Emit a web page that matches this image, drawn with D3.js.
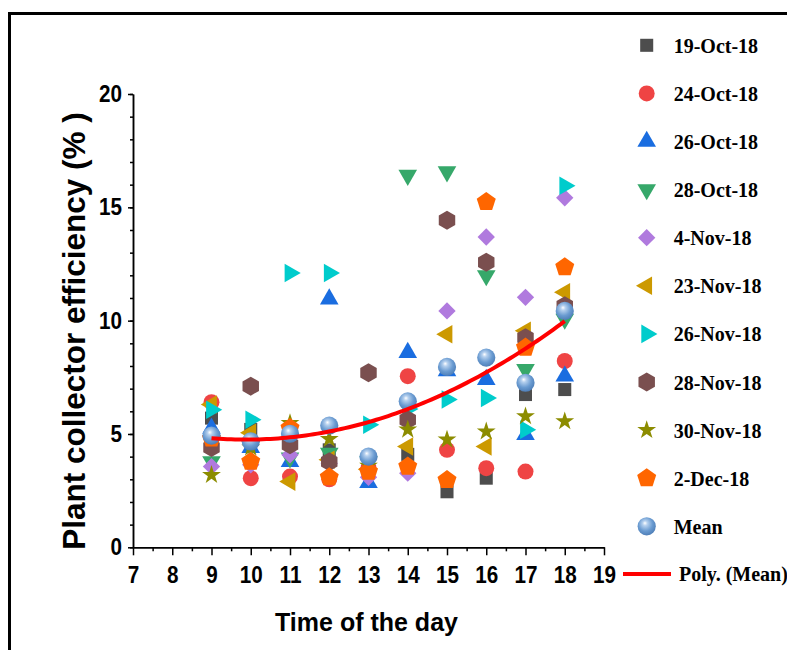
<!DOCTYPE html>
<html>
<head>
<meta charset="utf-8">
<script src="https://cdn.jsdelivr.net/npm/d3@7"></script>
<style>
  body { margin: 0; background: #fff; }
  svg { display: block; }
  .tick text { font-family: "Liberation Sans", Arial, sans-serif; font-weight: bold; font-size: 23.5px; fill: #000; }
  .axis path, .axis line { stroke: #000; stroke-width: 1.5px; }
</style>
</head>
<body>
<svg width="787" height="650"></svg>
<script>
// hours of the day
const hours = [9, 10, 11, 12, 13, 14, 15, 16, 17, 18];

// plant collector efficiency (%) per day
const oct19 = [5.7, 5.2, 4.9, 4.3, 3.4, 4.1, 2.45, 3.05, 6.74, 6.96];
const oct24 = [6.4, 3.05, 3.12, 3.0, 3.5, 7.55, 4.3, 3.49, 3.34, 8.22];
const oct26 = [5.25, 4.4, 3.78, 10.95, 2.85, 8.59, 7.78, 7.4, 4.97, 7.55];
const oct28 = [3.78, 4.45, 3.95, 4.15, 3.78, 16.42, 16.57, 11.99, 7.85, 10.07];
const nov4 = [3.56, 3.64, 4.08, 3.7, 3.09, 3.27, 10.43, 13.69, 11.03, 15.42];
const nov23 = [6.3, 5.05, 2.9, 3.86, 3.44, 4.45, 9.4, 4.45, 9.55, 11.25];
const nov26 = [6.07, 5.63, 12.1, 12.1, 5.41, 6.1, 6.52, 6.59, 5.19, 15.95];
const nov28 = [4.4, 7.11, 4.52, 3.78, 7.7, 5.63, 14.43, 12.58, 9.25, 10.66];
const nov30 = [3.19, 4.4, 5.48, 4.78, 3.6, 5.19, 4.75, 5.11, 5.78, 5.56];
const dec2 = [4.8, 3.78, 5.26, 3.09, 3.34, 3.56, 2.97, 15.24, 8.81, 12.36];
const mean = [4.93, 4.67, 5.01, 5.37, 4.0, 6.44, 7.96, 8.37, 7.26, 10.43];

const seriesNames = ['19-Oct-18', '24-Oct-18', '26-Oct-18', '28-Oct-18', '4-Nov-18',
  '23-Nov-18', '26-Nov-18', '28-Nov-18', '30-Nov-18', '2-Dec-18', 'Mean'];
const seriesValues = [oct19, oct24, oct26, oct28, nov4, nov23, nov26, nov28, nov30, dec2, mean];

const xTicks = [7, 8, 9, 10, 11, 12, 13, 14, 15, 16, 17, 18, 19];
const yTicks = [0, 5, 10, 15, 20];

// marker look per series
const colors = ['#4d4d4d', '#ef4444', '#1a6de0', '#36a86a', '#b07ade', '#cc9900',
  '#00cccc', '#7a4f4f', '#8c8c00', '#ff6600', 'url(#sphere)'];

function polyPath(n, r, rot) {
  const pts = d3.range(n).map(i => {
    const a = rot + i * 2 * Math.PI / n;
    return [r * Math.cos(a), r * Math.sin(a)];
  });
  return 'M' + pts.map(p => p.join(',')).join('L') + 'Z';
}

const tri = d3.symbol().type(d3.symbolTriangle).size(150)();
const markers = [
  { d: d3.symbol().type(d3.symbolSquare).size(170)(), rot: 0 },
  { d: d3.symbol().type(d3.symbolCircle).size(200)(), rot: 0 },
  { d: tri, rot: 0 },
  { d: tri, rot: 180 },
  { d: d3.symbol().type(d3.symbolSquare).size(150)(), rot: 45 },
  { d: tri, rot: -90 },
  { d: tri, rot: 90 },
  { d: polyPath(6, 9.5, -Math.PI / 2), rot: 0 },
  { d: d3.symbol().type(d3.symbolStar).size(110)(), rot: 0 },
  { d: polyPath(5, 10, -Math.PI / 2), rot: 0 },
  { d: d3.symbol().type(d3.symbolCircle).size(260)(), rot: 0 }
];

// least squares quadratic through the mean (the "Poly." trendline)
function quadFit(xs, ys) {
  let s = [0, 0, 0, 0, 0], t = [0, 0, 0];
  xs.forEach((x, i) => {
    for (let k = 0; k < 5; k++) s[k] += Math.pow(x, k);
    for (let k = 0; k < 3; k++) t[k] += Math.pow(x, k) * ys[i];
  });
  const m = [[s[0], s[1], s[2], t[0]], [s[1], s[2], s[3], t[1]], [s[2], s[3], s[4], t[2]]];
  for (let i = 0; i < 3; i++) {
    for (let j = i + 1; j < 3; j++) {
      const f = m[j][i] / m[i][i];
      for (let k = i; k < 4; k++) m[j][k] -= f * m[i][k];
    }
  }
  const c = [0, 0, 0];
  for (let i = 2; i >= 0; i--) {
    let v = m[i][3];
    for (let k = i + 1; k < 3; k++) v -= m[i][k] * c[k];
    c[i] = v / m[i][i];
  }
  return x => c[0] + c[1] * x + c[2] * x * x;
}

const svg = d3.select('svg');

const defs = svg.append('defs');
const grad = defs.append('radialGradient').attr('id', 'sphere')
  .attr('cx', '45%').attr('cy', '40%').attr('r', '60%').attr('fx', '40%').attr('fy', '32%');
grad.append('stop').attr('offset', '0%').attr('stop-color', '#ffffff');
grad.append('stop').attr('offset', '22%').attr('stop-color', '#b5d0ee');
grad.append('stop').attr('offset', '65%').attr('stop-color', '#6a9bd1');
grad.append('stop').attr('offset', '100%').attr('stop-color', '#4f7fb8');

// outer frame, runs off the right and bottom
svg.append('rect')
  .attr('x', 9.5).attr('y', 13.5).attr('width', 820).attr('height', 700)
  .attr('fill', 'none').attr('stroke', '#000').attr('stroke-width', 3);

const x = d3.scaleLinear().domain([7, 19]).range([133, 604]);
const y = d3.scaleLinear().domain([0, 20]).range([547.3, 94]);

// minor ticks first, then the labelled ones
svg.append('g').attr('class', 'axis')
  .attr('transform', 'translate(0,' + y(0) + ')')
  .call(d3.axisBottom(x).tickValues(d3.range(7.5, 19, 1)).tickSize(4).tickSizeOuter(0).tickFormat(''));
const xAxis = svg.append('g').attr('class', 'axis')
  .attr('transform', 'translate(0,' + y(0) + ')')
  .call(d3.axisBottom(x).tickValues(xTicks).tickSize(8).tickSizeOuter(0).tickPadding(11).tickFormat(d3.format('d')));
xAxis.selectAll('text').attr('transform', 'scale(0.88,1)')
  .attr('x', d => (x(d) - x(d)) / 0.88);

svg.append('g').attr('class', 'axis')
  .attr('transform', 'translate(' + x(7) + ',0)')
  .call(d3.axisLeft(y).tickValues(d3.range(0, 21, 1)).tickSize(3).tickSizeOuter(0).tickFormat(''));
const yAxis = svg.append('g').attr('class', 'axis')
  .attr('transform', 'translate(' + x(7) + ',0)')
  .call(d3.axisLeft(y).tickValues(yTicks).tickSize(5).tickSizeOuter(0).tickPadding(6).tickFormat(d3.format('d')));
yAxis.selectAll('text').attr('transform', 'scale(0.88,1)').attr('x', -11 / 0.88);

svg.append('text')
  .attr('x', x(13) - 2).attr('y', 631)
  .attr('text-anchor', 'middle')
  .style('font-family', '"Liberation Sans", Arial, sans-serif')
  .style('font-weight', 'bold').style('font-size', '25px')
  .text('Time of the day');

svg.append('text')
  .attr('transform', 'translate(85,331) rotate(-90)')
  .attr('text-anchor', 'middle')
  .style('font-family', '"Liberation Sans", Arial, sans-serif')
  .style('font-weight', 'bold').style('font-size', '31.5px')
  .text('Plant collector efficiency (% )');

// points
seriesValues.forEach((vals, si) => {
  svg.append('g').selectAll('path')
    .data(vals)
    .enter().append('path')
      .attr('d', markers[si].d)
      .attr('fill', colors[si])
      .attr('transform', (d, i) => 'translate(' + x(hours[i]) + ',' + y(d) + ') rotate(' + markers[si].rot + ')');
});

// trendline
const fit = quadFit(hours, mean);
const line = d3.line().x(d => x(d)).y(d => y(fit(d)));
svg.append('path')
  .attr('d', line(d3.range(9, 18.01, 0.1)))
  .attr('fill', 'none').attr('stroke', '#ff0000').attr('stroke-width', 4);

// legend
const legend = svg.append('g').selectAll('g')
  .data(seriesNames)
  .enter().append('g')
    .attr('transform', (d, i) => 'translate(646.7,' + (45.3 + i * 48.1) + ')');
legend.append('path')
  .attr('d', (d, i) => markers[i].d)
  .attr('fill', (d, i) => colors[i])
  .attr('transform', (d, i) => 'rotate(' + markers[i].rot + ')');
legend.append('text')
  .attr('x', 27).attr('y', 7.5)
  .style('font-family', '"Liberation Serif", "Times New Roman", serif')
  .style('font-weight', 'bold').style('font-size', '20px')
  .text(d => d);

svg.append('line')
  .attr('x1', 623).attr('x2', 671).attr('y1', 574).attr('y2', 574)
  .attr('stroke', '#ff0000').attr('stroke-width', 4);
svg.append('text')
  .attr('x', 679).attr('y', 581)
  .style('font-family', '"Liberation Serif", "Times New Roman", serif')
  .style('font-weight', 'bold').style('font-size', '20px')
  .text('Poly. (Mean)');
</script>
</body>
</html>
